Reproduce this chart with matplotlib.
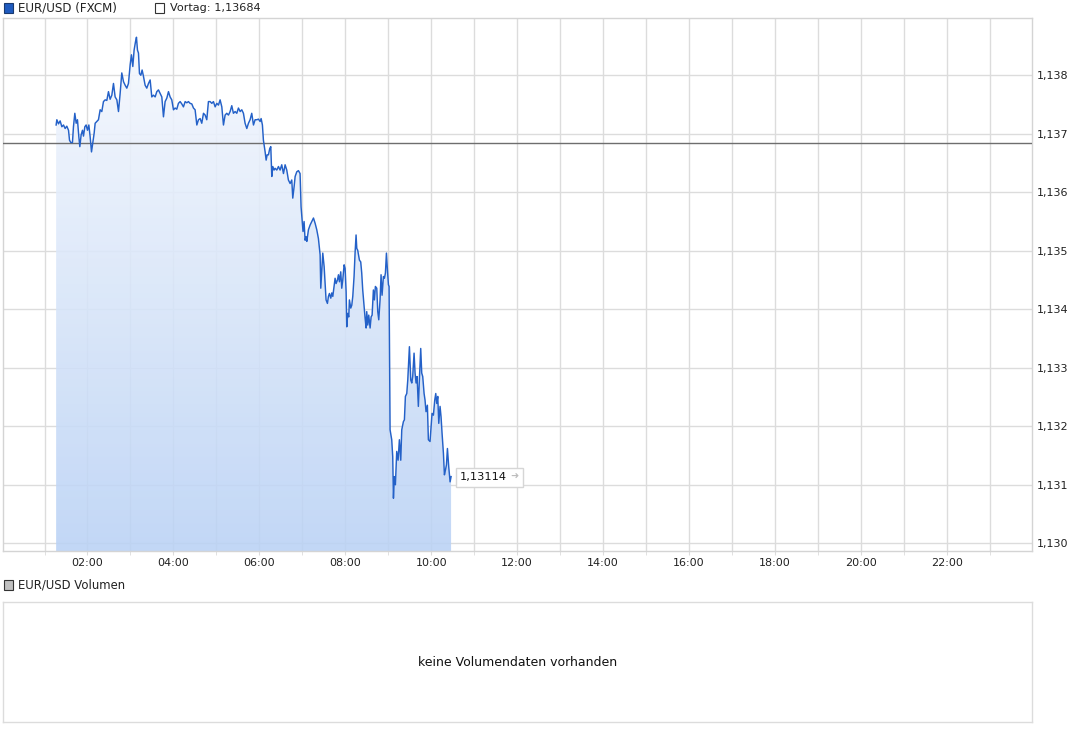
import numpy as np
import matplotlib
matplotlib.use("Agg")
import matplotlib.pyplot as plt
from matplotlib.colors import LinearSegmentedColormap
from matplotlib.patches import Polygon, Rectangle
from matplotlib.ticker import FuncFormatter, MultipleLocator, FixedLocator

plt.rcParams['font.family'] = ['DejaVu Sans']

# ---------------- data (minutes since 00:00, EUR/USD price) ----------------
t_seg1 = [76.2, 77.2, 79.5, 81.8, 84.2, 86.5, 88.8, 91.1, 93.5, 94.9, 96.7, 99.0, 100.4, 102.3,
          104.2, 106.0, 107.9, 109.3, 111.1, 113.0, 114.4, 116.3, 118.1, 120.0, 121.9, 123.7,
          125.6, 127.4, 129.3, 130.7, 133.0, 135.3, 137.7, 140.0, 142.3, 144.7, 147.0, 149.3,
          151.6, 154.0, 156.3, 158.6, 161.0, 163.3, 165.6, 167.9, 170.3, 172.6, 174.9, 177.2,
          179.6, 181.4, 183.3, 185.1, 187.0, 188.4, 189.8, 191.2, 192.6, 194.5, 196.3, 198.2,
          200.5, 202.8, 205.2, 207.5, 209.8, 212.1, 214.5, 216.8, 219.1, 221.5, 223.8, 226.1,
          228.4, 230.8, 233.1, 235.4, 237.7, 240.1, 242.4, 244.7, 247.0, 249.4]
p_seg1 = [1.13715, 1.13724, 1.13717, 1.13722, 1.13712, 1.13715, 1.13709, 1.13713, 1.13706, 1.13689,
          1.13685, 1.13685, 1.13712, 1.13735, 1.13718, 1.13724, 1.13695, 1.13678, 1.13698, 1.13706,
          1.13696, 1.13712, 1.13715, 1.13706, 1.13715, 1.13695, 1.13669, 1.13684, 1.13701, 1.13718,
          1.13721, 1.13724, 1.13741, 1.13738, 1.13755, 1.13758, 1.13757, 1.13772, 1.13759, 1.13766,
          1.13786, 1.13763, 1.13758, 1.13738, 1.13769, 1.13804, 1.13789, 1.13783, 1.13778, 1.13786,
          1.13818, 1.13835, 1.13815, 1.13843, 1.13857, 1.13865, 1.13843, 1.13838, 1.13803, 1.13800,
          1.13809, 1.13798, 1.13783, 1.13778, 1.13786, 1.13792, 1.13763, 1.13766, 1.13763, 1.13772,
          1.13775, 1.13769, 1.13763, 1.13729, 1.13755, 1.13761, 1.13772, 1.13763, 1.13758, 1.13741,
          1.13744, 1.13742, 1.13752, 1.13755]

t_seg2 = [251.7, 254.0, 256.4, 258.7, 261.0, 263.3, 265.7, 268.0, 270.3, 272.7, 275.0, 277.3,
          279.6, 282.0, 284.3, 286.6, 288.9, 291.3, 293.6, 295.9, 298.3, 300.6, 302.9, 305.2,
          307.6, 309.9, 312.2, 314.5, 316.9, 319.2, 321.5, 323.8, 326.2, 328.5, 330.8, 333.2,
          335.5, 337.8, 340.1, 342.5, 344.8, 347.1, 349.4, 351.8, 354.1, 356.4, 358.8, 361.1,
          362.5, 364.3, 365.7, 368.1, 369.5, 370.9, 372.7, 374.6, 376.0, 377.4, 378.8, 380.6,
          382.0, 384.4, 386.7, 389.0, 391.3, 393.7, 396.0, 398.3, 400.6, 403.0, 405.3, 406.7,
          408.6, 410.0, 412.3, 414.6, 416.9, 418.3, 421.0]
p_seg2 = [1.13751, 1.13746, 1.13755, 1.13753, 1.13755, 1.13752, 1.13751, 1.13744, 1.13741, 1.13715,
          1.13724, 1.13726, 1.13718, 1.13735, 1.13732, 1.13724, 1.13755, 1.13755, 1.13752, 1.13755,
          1.13746, 1.13752, 1.13749, 1.13758, 1.13746, 1.13715, 1.13732, 1.13735, 1.13732, 1.13738,
          1.13748, 1.13735, 1.13738, 1.13735, 1.13744, 1.13738, 1.13741, 1.13735, 1.13718, 1.13709,
          1.13718, 1.13724, 1.13735, 1.13715, 1.13724, 1.13724, 1.13725, 1.13721, 1.13726, 1.13715,
          1.13689, 1.13669, 1.13655, 1.13664, 1.13664, 1.13675, 1.13678, 1.13627, 1.13644, 1.13638,
          1.13641, 1.13638, 1.13644, 1.13638, 1.13647, 1.13632, 1.13647, 1.13638, 1.13621, 1.13615,
          1.13621, 1.13590, 1.13610, 1.13627, 1.13635, 1.13637, 1.13632, 1.13575, 1.13533]

t_seg3 = [422.5, 423.9, 425.3, 426.3, 428.6, 430.9, 433.2, 435.6, 437.9, 440.2, 442.5, 444.9,
          445.8, 447.2, 448.6, 450.5, 451.9, 453.2, 455.1, 456.5, 457.9, 459.8, 461.2, 462.6,
          464.4, 465.8, 467.2, 469.1, 470.5, 471.9, 473.7, 475.1, 476.5, 478.4, 479.8, 481.2,
          482.1, 483.5, 484.9, 485.8, 487.7, 489.1, 490.5, 492.3, 493.7, 495.1, 496.1, 497.4,
          499.8, 501.6, 503.0, 504.4, 506.3, 507.7, 509.1, 510.0, 511.4, 512.8, 514.7, 516.1,
          517.5, 519.3, 520.7, 522.1, 524.0, 525.4, 526.8, 528.6, 530.0, 531.4, 533.3, 534.7,
          536.1, 537.5, 538.9, 540.3, 541.2]
p_seg3 = [1.13550, 1.13518, 1.13524, 1.13516, 1.13536, 1.13544, 1.13550, 1.13556, 1.13547, 1.13536,
          1.13521, 1.13493, 1.13436, 1.13467, 1.13496, 1.13473, 1.13442, 1.13416, 1.13410, 1.13422,
          1.13427, 1.13419, 1.13428, 1.13422, 1.13439, 1.13453, 1.13444, 1.13450, 1.13459, 1.13447,
          1.13464, 1.13436, 1.13450, 1.13476, 1.13470, 1.13430, 1.13370, 1.13393, 1.13387, 1.13416,
          1.13402, 1.13407, 1.13422, 1.13456, 1.13496, 1.13527, 1.13504, 1.13501, 1.13484, 1.13481,
          1.13462, 1.13433, 1.13404, 1.13385, 1.13368, 1.13396, 1.13373, 1.13390, 1.13368, 1.13387,
          1.13390, 1.13433, 1.13416, 1.13439, 1.13436, 1.13396, 1.13382, 1.13416, 1.13459, 1.13424,
          1.13456, 1.13453, 1.13462, 1.13496, 1.13467, 1.13442, 1.13439]

t_seg4 = [542.6, 544.9, 546.3, 547.3, 548.6, 550.0, 551.9, 553.8, 555.6, 557.5, 558.9, 561.2,
          562.6, 564.0, 565.9, 567.3, 569.6, 571.5, 572.9, 574.2, 576.1, 577.5, 578.9, 580.3,
          582.1, 583.5, 585.4, 586.8, 588.2, 590.1, 591.4, 592.8, 594.7, 596.1, 598.4, 599.8,
          601.2, 603.1, 605.0, 606.4, 607.8, 609.2, 610.6, 612.4, 613.8, 615.2, 617.1, 618.5,
          619.9, 621.3, 622.7, 624.5, 626.4, 627.8]
p_seg4 = [1.13194, 1.13177, 1.13148, 1.13077, 1.13114, 1.13100, 1.13157, 1.13142, 1.13177, 1.13142,
          1.13194, 1.13208, 1.13211, 1.13251, 1.13256, 1.13279, 1.13336, 1.13279, 1.13274, 1.13285,
          1.13325, 1.13291, 1.13274, 1.13285, 1.13234, 1.13279, 1.13333, 1.13291, 1.13285, 1.13256,
          1.13245, 1.13225, 1.13236, 1.13177, 1.13174, 1.13197, 1.13222, 1.13219, 1.13245, 1.13256,
          1.13239, 1.13251, 1.13205, 1.13234, 1.13216, 1.13188, 1.13154, 1.13117, 1.13125, 1.13134,
          1.13162, 1.13131, 1.13105, 1.13114]

prev_close = 1.13684
y_ticks = [1.130, 1.131, 1.132, 1.133, 1.134, 1.135, 1.136, 1.137, 1.138]
x_label_hours = [2, 4, 6, 8, 10, 12, 14, 16, 18, 20, 22]
series_name = "EUR/USD (FXCM)"
volume_name = "EUR/USD Volumen"
no_volume_text = "keine Volumendaten vorhanden"

times = np.array(t_seg1 + t_seg2 + t_seg3 + t_seg4)
prices = np.array(p_seg1 + p_seg2 + p_seg3 + p_seg4)

def de(v, n):
    return f"{v:.{n}f}".replace('.', ',')

# ---------------- figure ----------------
W, H = 1089, 736
fig = plt.figure(figsize=(W / 100, H / 100), dpi=100)
fig.patch.set_facecolor('white')

def box(l, t, r, b):
    return [l / W, 1 - b / H, (r - l) / W, (b - t) / H]

XMIN, XMAX = 2.0, 1438.7
YMIN, YMAX = 1.129868, 1.138979

ax = fig.add_axes(box(3, 18, 1031.7, 551))
ax.set_xlim(XMIN, XMAX)
ax.set_ylim(YMIN, YMAX)

grid_c = '#dcdcdc'
for s in ax.spines.values():
    s.set_color('#d4d4d4')
    s.set_linewidth(1.0)

ax.xaxis.set_major_locator(FixedLocator([h * 60 for h in x_label_hours]))
ax.xaxis.set_minor_locator(MultipleLocator(60))
ax.xaxis.set_major_formatter(FuncFormatter(lambda v, p: f"{int(round(v / 60)):02d}:00"))
ax.yaxis.set_major_locator(FixedLocator(y_ticks))
ax.yaxis.set_major_formatter(FuncFormatter(lambda v, p: de(v, 3)))
ax.grid(True, which='both', axis='x', color=grid_c, lw=1.0, zorder=0)
ax.grid(True, which='major', axis='y', color=grid_c, lw=1.0, zorder=0)
ax.set_axisbelow(True)
ax.tick_params(axis='x', which='both', direction='out', length=3, color=grid_c,
               labelsize=8, pad=2, labelcolor='#222222')
ax.tick_params(axis='y', which='both', length=0, labelsize=8, pad=4,
               labelleft=False, labelright=True, labelcolor='#222222')

# gradient fill under the line
verts = [(times[0], YMIN)] + list(zip(times, prices)) + [(times[-1], YMIN)]
clip = Polygon(verts, closed=True, facecolor='none', edgecolor='none')
ax.add_patch(clip)
cmap = LinearSegmentedColormap.from_list('fx', ['#f8fafe', '#bad2f5'])
grad = np.linspace(0, 1, 256).reshape(-1, 1)
im = ax.imshow(grad, extent=[XMIN, XMAX, YMIN, YMAX], origin='upper', aspect='auto',
               cmap=cmap, zorder=1, alpha=0.88, interpolation='bilinear')
im.set_clip_path(clip)
ax.set_xlim(XMIN, XMAX)
ax.set_ylim(YMIN, YMAX)

ax.axhline(prev_close, color='#6e6e6e', lw=1.0, zorder=3)
ax.plot(times, prices, color='#2461c8', lw=1.05, zorder=4, solid_joinstyle='round')

# overlay for legends and the price tag (pixel coordinates, y downwards)
ov = fig.add_axes([0, 0, 1, 1])
ov.set_xlim(0, W)
ov.set_ylim(H, 0)
ov.axis('off')

# last price tag, anchored at the last data point
lx, ly = ax.transData.transform((times[-1], prices[-1]))
ly = H - ly
ov.add_patch(Rectangle((lx + 4.5, ly - 9), 67, 19, facecolor='white', edgecolor='#d6d6d6',
                       lw=1.0, zorder=6))
ov.text(lx + 9, ly + 0.5, de(prices[-1], 5), ha='left', va='center', fontsize=8.2,
        color='#111111', zorder=7)
ov.text(lx + 59, ly + 0.5, "\u279c", ha='left', va='center', fontsize=7,
        color='#bdbdbd', zorder=7)

ov.add_patch(Rectangle((3.5, 3), 9.5, 9.5, facecolor='#1f5bbf', edgecolor='#1a3a70', lw=0.8))
ov.text(18.5, 7.8, series_name, ha='left', va='center', fontsize=8.6, color='#222222')
ov.add_patch(Rectangle((154.5, 3), 9.5, 9.5, facecolor='white', edgecolor='#333333', lw=0.8))
ov.text(170.5, 7.8, "Vortag: " + de(prev_close, 5), ha='left', va='center', fontsize=8.1,
        color='#222222')
ov.add_patch(Rectangle((3.5, 580), 9.5, 9.5, facecolor='#c0c0c0', edgecolor='#333333', lw=0.8))
ov.text(18.5, 584.8, volume_name, ha='left', va='center', fontsize=8.4, color='#222222')

# volume panel
vax = fig.add_axes(box(3, 602, 1031.7, 722))
vax.set_xticks([])
vax.set_yticks([])
for s in vax.spines.values():
    s.set_color('#dcdcdc')
    s.set_linewidth(1.0)
vax.text(0.5, 0.5, no_volume_text, transform=vax.transAxes, ha='center', va='center',
         fontsize=9, color='#111111')

fig.savefig('out.png', dpi=100)
